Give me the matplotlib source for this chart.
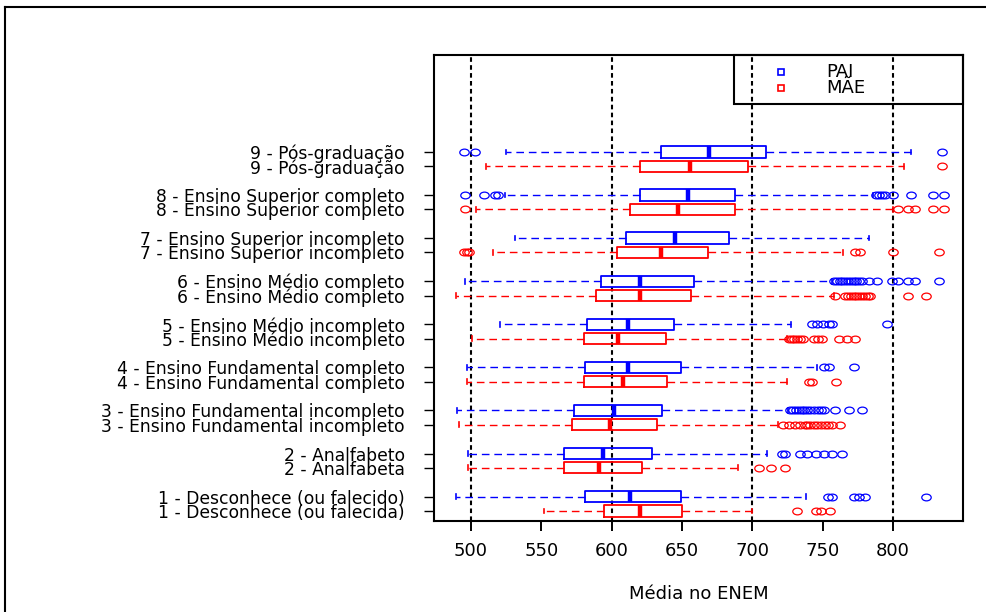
import numpy as np
import matplotlib.pyplot as plt
from matplotlib.path import Path
from matplotlib.lines import Line2D
from matplotlib.patches import Rectangle

plt.rcParams['font.family'] = ['DejaVu Sans']

# escolaridade, de baixo (1) para cima (9)
labels_pai = ['1 - Desconhece (ou falecido)', '2 - Analfabeto',
              '3 - Ensino Fundamental incompleto', '4 - Ensino Fundamental completo',
              '5 - Ensino Médio incompleto', '6 - Ensino Médio completo',
              '7 - Ensino Superior incompleto', '8 - Ensino Superior completo',
              '9 - Pós-graduação']
labels_mae = ['1 - Desconhece (ou falecida)', '2 - Analfabeta',
              '3 - Ensino Fundamental incompleto', '4 - Ensino Fundamental completo',
              '5 - Ensino Médio incompleto', '6 - Ensino Médio completo',
              '7 - Ensino Superior incompleto', '8 - Ensino Superior completo',
              '9 - Pós-graduação']

# PAI
pai_whislo = [489, 498, 490, 497, 520.5, 496, 531.5, 524.5, 525]
pai_q1 = [581, 566, 573, 581, 582.5, 592.5, 610.5, 620.5, 635]
pai_med = [613, 593.5, 602, 611.5, 611.5, 620.5, 645, 654, 669]
pai_q3 = [649, 628.5, 635.5, 649, 644, 658.5, 683.5, 688, 709.5]
pai_whishi = [738, 710.5, 725.5, 746, 727.5, 757, 783, 786, 812.5]
pai_out = [
    [754, 757, 772, 776, 780, 823.5],
    [721, 723, 734, 739, 745, 751, 757, 764],
    [727, 729, 731, 733, 735, 737, 739, 741, 744, 747, 749, 751, 759, 769, 778],
    [751, 754.5, 772],
    [742.5, 746, 750, 754.5, 757, 795.5],
    [758, 760, 762, 764, 766, 768, 770, 772, 774, 776, 778, 783, 789, 799, 803.5, 811, 816, 832.5],
    [],
    [495.5, 509.5, 517, 519, 788, 790, 792, 794, 800, 812.5, 828.5, 836],
    [495, 503, 835],
]

# MAE
mae_whislo = [552, 498, 491.5, 497, 501, 489, 516, 503.5, 510.5]
mae_q1 = [594.5, 566, 572, 580, 580, 589, 603.5, 613, 620.5]
mae_med = [620.5, 591, 599, 608, 604.5, 620.5, 635, 647.5, 655.5]
mae_q3 = [650, 621.5, 632, 639.5, 638.5, 656.5, 668.5, 688, 697]
mae_whishi = [699.5, 690, 718.5, 724.5, 724.5, 758, 764.5, 800, 808]
mae_out = [
    [731.5, 745.5, 748.5, 755],
    [705, 713.5, 723.5],
    [722, 726, 730.5, 734, 737.5, 739, 741, 744, 746, 749, 752, 754, 757, 762],
    [740, 742.5, 759.5],
    [726, 728, 730, 732, 734, 736, 744, 747, 749.5, 761.5, 767.5, 773],
    [759, 766, 768, 770, 772, 774, 776, 778, 780, 782, 784, 811, 823.5],
    [495, 497, 498.5, 773, 776.5, 800, 832.5],
    [495.5, 803.5, 811, 815.5, 828.5, 836],
    [835],
]

x_ticks = [500, 550, 600, 650, 700, 750, 800]
ref_lines = [500, 600, 700, 800]


def make_stats(whislo, q1, med, q3, whishi, out):
    return [dict(whislo=a, q1=b, med=c, q3=d, whishi=e, fliers=np.array(f))
            for a, b, c, d, e, f in zip(whislo, q1, med, q3, whishi, out)]


# circulo achatado (como no grafico original)
circ = Path.unit_circle()
ellipse = Path(circ.vertices * np.array([1.4, 1.0]), circ.codes)

fig = plt.figure(figsize=(9.87, 6.12), dpi=100)
ax = fig.add_axes([434 / 987, 1 - 521 / 612, 529 / 987, 466 / 612])

for v in ref_lines:
    ax.axvline(v, color='black', lw=1.5, ls=(0, (2.2, 1.6)), zorder=1)

groups = np.arange(1, 10)
pos_pai = 3 * groups + 0.5
pos_mae = 3 * groups - 0.5


def draw(stats, pos, color):
    ax.bxp(stats, positions=pos, widths=0.78, orientation='horizontal',
           manage_ticks=False, capwidths=0.33,
           boxprops=dict(color=color, lw=1.3),
           medianprops=dict(color=color, lw=3.2, solid_capstyle='butt'),
           whiskerprops=dict(color=color, lw=1.0, ls=(0, (5.5, 3.5))),
           capprops=dict(color=color, lw=1.2),
           flierprops=dict(marker=ellipse, markersize=6.8, markeredgecolor=color,
                           markerfacecolor='none', markeredgewidth=0.9))


draw(make_stats(pai_whislo, pai_q1, pai_med, pai_q3, pai_whishi, pai_out), pos_pai, '#0000ff')
draw(make_stats(mae_whislo, mae_q1, mae_med, mae_q3, mae_whishi, mae_out), pos_mae, '#ff0000')

ax.set_xlim(473.7, 849.8)
ax.set_ylim(1.8, 34.25)

ax.set_xticks(x_ticks)
ax.set_xticklabels([str(t) for t in x_ticks], fontsize=13)
ax.set_yticks(np.concatenate([pos_pai, pos_mae]))
ax.set_yticklabels(labels_pai + labels_mae, fontsize=12.3)
ax.tick_params(axis='x', length=7, width=1.4, pad=8)
ax.tick_params(axis='y', length=7, width=1.0, pad=14)
ax.set_xlabel('Média no ENEM', fontsize=13, labelpad=18)
for s in ax.spines.values():
    s.set_linewidth(1.5)

# legenda
ax.add_patch(Rectangle((0.567, 0.895), 0.433, 0.105, transform=ax.transAxes,
                       fill=False, ec='black', lw=1.5, zorder=5, clip_on=False))
for yy, name, color in [(0.9635, 'PAI', '#0000ff'), (0.929, 'MÃE', '#ff0000')]:
    ax.plot([0.656], [yy], marker='s', ms=5, mfc='none', mec=color, mew=1.2,
            transform=ax.transAxes, clip_on=False, zorder=6)
    ax.text(0.741, yy, name, transform=ax.transAxes, fontsize=13, va='center', ha='left')

# moldura externa
fig.add_artist(Line2D([5 / 987, 5 / 987], [0, 1 - 7 / 612], transform=fig.transFigure, color='black', lw=1.5))
fig.add_artist(Line2D([5 / 987, 1], [1 - 7 / 612, 1 - 7 / 612], transform=fig.transFigure, color='black', lw=1.5))

fig.savefig('out.png', dpi=100)
